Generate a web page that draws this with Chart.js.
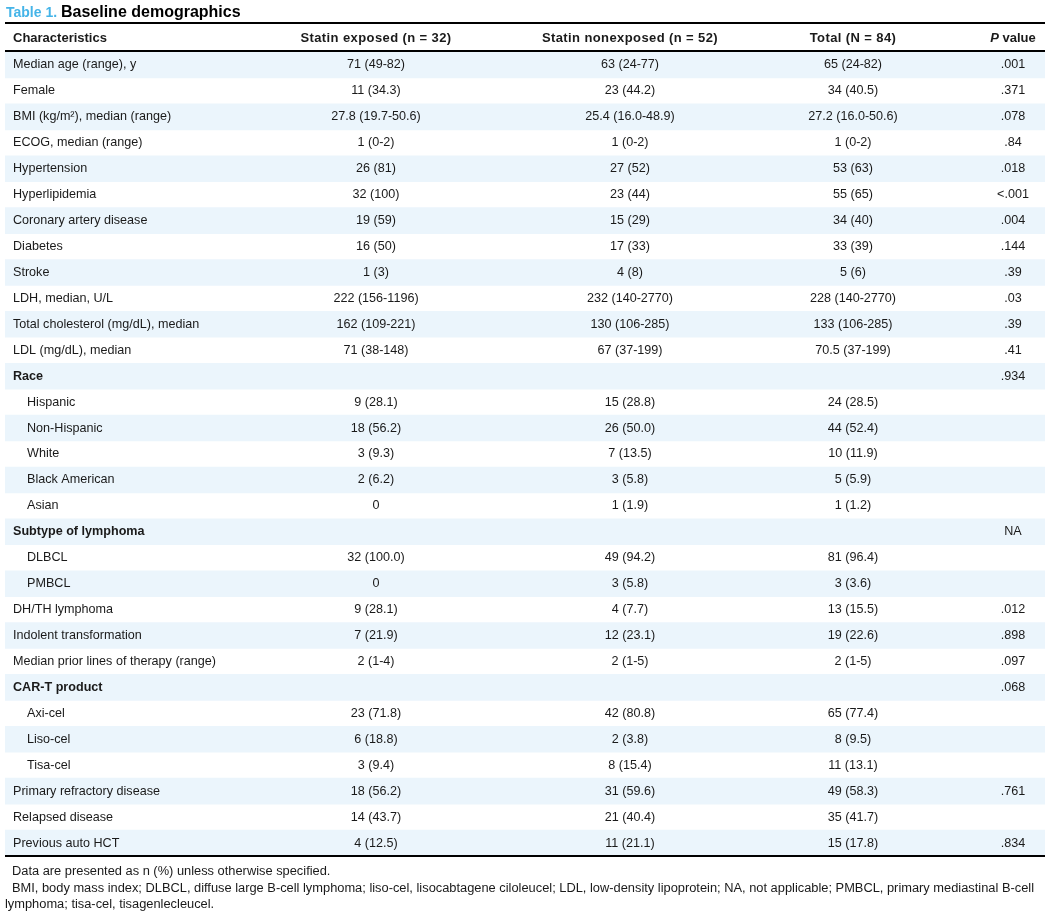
<!DOCTYPE html>
<html lang="en">
<head>
  <meta charset="UTF-8">
  <title>Table 1. Baseline demographics</title>
  <script src="https://cdn.jsdelivr.net/npm/chart.js"></script>
  <style>
    body { margin: 0; background: #fff; }
    #tableChart { display: block; }
  </style>
</head>
<body>
  <canvas id="tableChart" width="1050" height="915"></canvas>
  <script>
    // Table contents, one array per column
    const characteristics = [
      'Median age (range), y', 'Female', 'BMI (kg/m²), median (range)', 'ECOG, median (range)',
      'Hypertension', 'Hyperlipidemia', 'Coronary artery disease', 'Diabetes', 'Stroke',
      'LDH, median, U/L', 'Total cholesterol (mg/dL), median', 'LDL (mg/dL), median',
      'Race', 'Hispanic', 'Non-Hispanic', 'White', 'Black American', 'Asian',
      'Subtype of lymphoma', 'DLBCL', 'PMBCL', 'DH/TH lymphoma', 'Indolent transformation',
      'Median prior lines of therapy (range)', 'CAR-T product', 'Axi-cel', 'Liso-cel', 'Tisa-cel',
      'Primary refractory disease', 'Relapsed disease', 'Previous auto HCT'
    ];
    // n = normal row, h = group heading, s = indented sub-row
    const rowType = [
      'n', 'n', 'n', 'n', 'n', 'n', 'n', 'n', 'n', 'n', 'n', 'n',
      'h', 's', 's', 's', 's', 's',
      'h', 's', 's', 'n', 'n', 'n',
      'h', 's', 's', 's',
      'n', 'n', 'n'
    ];
    const statinExposed = [
      '71 (49-82)', '11 (34.3)', '27.8 (19.7-50.6)', '1 (0-2)', '26 (81)', '32 (100)', '19 (59)',
      '16 (50)', '1 (3)', '222 (156-1196)', '162 (109-221)', '71 (38-148)',
      '', '9 (28.1)', '18 (56.2)', '3 (9.3)', '2 (6.2)', '0',
      '', '32 (100.0)', '0', '9 (28.1)', '7 (21.9)', '2 (1-4)',
      '', '23 (71.8)', '6 (18.8)', '3 (9.4)', '18 (56.2)', '14 (43.7)', '4 (12.5)'
    ];
    const statinNonexposed = [
      '63 (24-77)', '23 (44.2)', '25.4 (16.0-48.9)', '1 (0-2)', '27 (52)', '23 (44)', '15 (29)',
      '17 (33)', '4 (8)', '232 (140-2770)', '130 (106-285)', '67 (37-199)',
      '', '15 (28.8)', '26 (50.0)', '7 (13.5)', '3 (5.8)', '1 (1.9)',
      '', '49 (94.2)', '3 (5.8)', '4 (7.7)', '12 (23.1)', '2 (1-5)',
      '', '42 (80.8)', '2 (3.8)', '8 (15.4)', '31 (59.6)', '21 (40.4)', '11 (21.1)'
    ];
    const totals = [
      '65 (24-82)', '34 (40.5)', '27.2 (16.0-50.6)', '1 (0-2)', '53 (63)', '55 (65)', '34 (40)',
      '33 (39)', '5 (6)', '228 (140-2770)', '133 (106-285)', '70.5 (37-199)',
      '', '24 (28.5)', '44 (52.4)', '10 (11.9)', '5 (5.9)', '1 (1.2)',
      '', '81 (96.4)', '3 (3.6)', '13 (15.5)', '19 (22.6)', '2 (1-5)',
      '', '65 (77.4)', '8 (9.5)', '11 (13.1)', '49 (58.3)', '35 (41.7)', '15 (17.8)'
    ];
    const pValues = [
      '.001', '.371', '.078', '.84', '.018', '<.001', '.004', '.144', '.39', '.03', '.39', '.41',
      '.934', '', '', '', '', '',
      'NA', '', '', '.012', '.898', '.097',
      '.068', '', '', '', '.761', '', '.834'
    ];
    const columnHeaders = ['Characteristics', 'Statin exposed (n = 32)', 'Statin nonexposed (n = 52)', 'Total (N = 84)', 'value'];
    const footnotes = [
      'Data are presented as n (%) unless otherwise specified.',
      'BMI, body mass index; DLBCL, diffuse large B-cell lymphoma; liso-cel, lisocabtagene ciloleucel; LDL, low-density lipoprotein; NA, not applicable; PMBCL, primary mediastinal B-cell',
      'lymphoma; tisa-cel, tisagenlecleucel.'
    ];

    const FONT = '"Liberation Sans", Arial, Helvetica, sans-serif';
    const INK = '#1a1a1a';
    // column anchors in x-scale units
    const colX = { label: 8, indent: 22, c1: 371, c2: 625, c3: 848, p: 1008 };

    const tablePlugin = {
      id: 'tableText',
      afterDraw(chart) {
        const { ctx, chartArea } = chart;
        const xs = chart.scales.x, ys = chart.scales.y;
        const L = chartArea.left, R = chartArea.right;
        ctx.save();

        // title
        ctx.textBaseline = 'alphabetic';
        ctx.textAlign = 'left';
        ctx.fillStyle = '#45b4e8';
        ctx.font = 'bold 14px ' + FONT;
        ctx.fillText('Table 1.', 6, 17);
        const tw = ctx.measureText('Table 1. ').width;
        ctx.fillStyle = '#000';
        ctx.font = 'bold 16px ' + FONT;
        ctx.fillText('Baseline demographics', 6 + tw, 17);

        // rules
        ctx.strokeStyle = '#000';
        ctx.lineWidth = 2;
        [23, chartArea.top - 1, chartArea.bottom].forEach(y => {
          ctx.beginPath(); ctx.moveTo(L, y); ctx.lineTo(R, y); ctx.stroke();
        });

        // header row
        const hy = 38;
        ctx.textBaseline = 'middle';
        ctx.fillStyle = INK;
        const hFont = 'bold 13px ' + FONT;
        ctx.font = hFont;
        ctx.textAlign = 'left';
        ctx.fillText(columnHeaders[0], xs.getPixelForValue(colX.label), hy);
        ctx.letterSpacing = '0.4px';
        ctx.textAlign = 'center';
        ctx.fillText(columnHeaders[1], xs.getPixelForValue(colX.c1), hy);
        ctx.fillText(columnHeaders[2], xs.getPixelForValue(colX.c2), hy);
        ctx.fillText(columnHeaders[3], xs.getPixelForValue(colX.c3), hy);
        ctx.letterSpacing = '0px';
        ctx.font = 'italic ' + hFont;
        const pw = ctx.measureText('P ').width;
        ctx.font = hFont;
        const vw = ctx.measureText(columnHeaders[4]).width;
        const px0 = xs.getPixelForValue(colX.p) - (pw + vw) / 2;
        ctx.textAlign = 'left';
        ctx.font = 'italic ' + hFont;
        ctx.fillText('P', px0, hy);
        ctx.font = hFont;
        ctx.fillText(columnHeaders[4], px0 + pw, hy);

        // body cells
        const bSize = '12.6px ';
        characteristics.forEach((label, i) => {
          const y = ys.getPixelForValue(i);
          ctx.textAlign = 'left';
          ctx.font = (rowType[i] === 'h' ? 'bold ' : '') + bSize + FONT;
          const lx = rowType[i] === 's' ? colX.indent : colX.label;
          ctx.fillText(label, xs.getPixelForValue(lx), y);
          ctx.font = bSize + FONT;
          ctx.textAlign = 'center';
          ctx.fillText(statinExposed[i], xs.getPixelForValue(colX.c1), y);
          ctx.fillText(statinNonexposed[i], xs.getPixelForValue(colX.c2), y);
          ctx.fillText(totals[i], xs.getPixelForValue(colX.c3), y);
          ctx.fillText(pValues[i], xs.getPixelForValue(colX.p), y);
        });

        // footnotes
        ctx.textAlign = 'left';
        ctx.font = '12.85px ' + FONT;
        ctx.fillText(footnotes[0], 12, 871);
        ctx.fillText(footnotes[1], 12, 888);
        ctx.fillText(footnotes[2], 5, 904);
        ctx.restore();
      }
    };

    new Chart(document.getElementById('tableChart'), {
      type: 'bar',
      data: {
        labels: characteristics,
        datasets: [{
          // alternating row shading
          data: characteristics.map((_, i) => (i % 2 === 0 ? [0, 1040] : null)),
          backgroundColor: '#ebf5fc',
          borderWidth: 0,
          barPercentage: 1,
          categoryPercentage: 1
        }]
      },
      options: {
        indexAxis: 'y',
        responsive: false,
        animation: false,
        events: [],
        layout: { padding: { left: 5, right: 5, top: 52, bottom: 59 } },
        plugins: { legend: { display: false }, tooltip: { enabled: false } },
        scales: {
          x: { type: 'linear', min: 0, max: 1040, display: false },
          y: { type: 'category', display: false, offset: true }
        }
      },
      plugins: [tablePlugin]
    });
  </script>
</body>
</html>
